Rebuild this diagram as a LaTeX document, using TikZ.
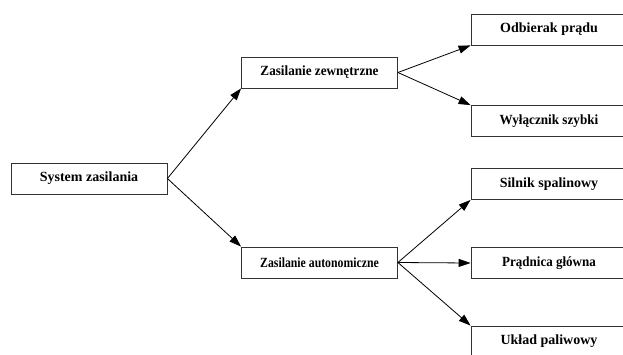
\documentclass[tikz,border=0pt]{standalone}
\usepackage{fontspec}
\setmainfont{Liberation Serif}
\usetikzlibrary{arrows.meta}
\begin{document}
\begin{tikzpicture}[x=1pt,y=-1pt,
  box/.style={draw=black!80,line width=0.8pt,fill=white,minimum width=156pt,minimum height=31pt,inner sep=0pt,
    font=\fontsize{14}{16}\selectfont\bfseries},
  arr/.style={line width=0.8pt,-{Triangle[length=12pt,width=8pt]}}]
\useasboundingbox (0,0) rectangle (623,354);
\clip (0,0) rectangle (623,354);
\fill[white] (0,0) rectangle (623,354);
\node[box] (sys) at (89,178.5) {System zasilania};
\node[box] (zew) at (319.5,72.5) {\scalebox{0.94}[1]{Zasilanie zewnętrzne}};
\node[box] (aut) at (319.5,262.5) {\scalebox{0.84}[1]{Zasilanie autonomiczne}};
\node[box] (odb) at (549,29.5) {Odbierak prądu};
\node[box] (wyl) at (549,121) {\scalebox{0.94}[1]{Wyłącznik szybki}};
\node[box] (sil) at (549,184) {Silnik spalinowy};
\node[box] (pra) at (549,263) {\scalebox{0.93}[1]{Prądnica główna}};
\node[box] (ukl) at (549,341.5) {Układ paliwowy};
\draw[arr] (sys.east) -- (zew.south west);
\draw[arr] (sys.east) -- (aut.north west);
\draw[arr] (zew.east) -- (odb.south west);
\draw[arr] (zew.east) -- (wyl.north west);
\draw[arr] (aut.east) -- (sil.south west);
\draw[arr] (aut.east) -- (pra.west);
\draw[arr] (aut.east) -- (ukl.north west);
\end{tikzpicture}
\end{document}
